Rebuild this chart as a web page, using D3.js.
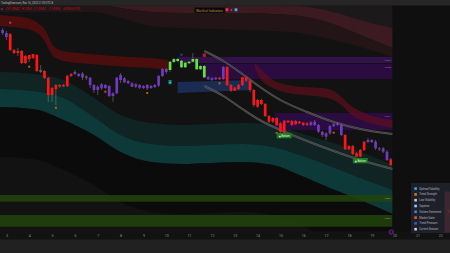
<!DOCTYPE html>
<html>
<head>
<meta charset="utf-8">
<script src="https://cdn.jsdelivr.net/npm/d3@7"></script>
<style>
  html, body { margin: 0; padding: 0; background: #121212; overflow: hidden; }
  svg { display: block; font-family: Roboto, 'DejaVu Sans', sans-serif; }
</style>
</head>
<body>
<script>
//4h candles (price units)
var opens = [270,267,266,250,249,249,244,245,246,245, 230,229,222,212,215,215,215,224.3,226,228,
  226,226.5,223.5,222.3,215,213.3,215.7,215,214,206.7, 206.7,225,221.7,219,216.7,215.7,215,214,215,214,
  215,214.5,224,228,230,238,239,232.7,232.7,236.7, 238.3,230.7,230.7,222.7,222.7,221.7,222.3,222.3,221,233,
  215,212.3,215,222.7,222.7,219.3,210,200,200,196, 184,182,182,176.7,179.3,179.3,179,179,178.3,177.3,
  176.7,177.7,178.3,175,168.3,166.7,166.7,174,176.7,175, 165,154,154,146.7,150,158.3,160,160,158.3,151.7,
  151.7,148.3,140.7];
var closes = [267,263,250,247,247,237,237,241,242,229, 228,222,205,205,211,213.5,213.5,214,224,226,
  224,222.5,222,215,210,210,211.7,212,204,204, 222.3,220,217.7,216.7,213.3,213.3,212.3,212,211.7,212,
  213,224,231,231,238.3,241,241,239.3,237.3,238.3, 241,241,234,234,220.7,220,220.7,220.7,233,215,
  209.3,209.3,211,215,219.3,210,195,193.3,196,184, 178.3,178.3,175,168.3,167.3,177.7,175,175.7,176.7,175,
  175,175,175,168.3,165,163.3,174,175.7,175,165, 150.7,150.7,146,143.3,143.3,150,158,158,151.7,150.7,
  148.3,140,135];
var highs = [272,269,267,251,252,250,245,245,246,246, 235,230,223,213,216,216,216,225,227,230,
  227,228,225,223,216,215,217,216,215,208, 223,227,223,220,218,217,216,215,216,215,
  216,225,232,232,239,242,242,240,238,239, 247,242,235,235,224,223,223,223,234,234,
  216,213,216,223,223,220,211,201,201,197, 185,183,183,178,180,180,180,180,179,178,
  178,179,180,176,169,168,175,177,178,176, 166,155,155,148,151,159,162,161,160,153,
  153,150,142];
var lows = [265,260,249,246,244,236,236,238,241,228, 227,221,198,198,195,212,213,213,223,225,
  223,220,220,212,207,205,210,211,203,198.3, 206,217,217,216,213,212,211,211,210,211,
  212,213,223,226,228,237,238,232,232,236, 238,230,230,222,220,219,220,220,220,214,
  208,209,210,214,218,208,193,192,195,183, 177,177,174,167,166,177,174,175,176,174,
  174,174,174,167,163,160,165,173,174,164, 150,150,145,143,143,149,157,157,150,149,
  147,139,134];
//indicator state per bar: r = bearish, g = bullish, p = neutral, x = flat
var states = ('pprrrrrrrr' + 'xrrrrrrrr' + 'ppp' + 'x' + 'ppppppppppppppppppppp' + 'gggggggggg' +
  'ppp' + 'r' + 'p' + 'rrrrrrrrrrrrrrrrrrrrrr' + 'ppppppppp' + 'rrrrrr' + 'ppp' + 'x' + 'pp' + 'r').split('');

//volatility envelope (sampled at bar index)
var bandIdx = [-1, 8, 16, 24, 31, 39, 47, 55, 63, 71, 78, 86, 94, 102.5];
var cloudTop = [305,305,305,303,300,297,296,295,295,295,294,289,280,272];
var cloudMid = [297,297,297,296,292,288,287,287,287,286,284,277,265,252];
var cloudBase = [288,288,288,288,282,274,272,271,270,269,267,261,253,243];
var tealInner = [228,226,220,202,185,177,175,176,177,175,167,158,148,135];
var tealMid = [211,209,202,183,165,156,154,155,156,153,145,134,122,110];
var tealOuter = [193,191,180,165,148,138,136,137,138,135,125,112,100,86];

//trailing ribbons
var ribbonLIdx = [-1, 2, 5, 8, 10, 11, 12, 13, 14, 16, 20, 26, 33, 39, 43.5];
var ribbonLTop = [285,284,283,280,275,271,264,256,252,249,247,245,243,242,240];
var ribbonLBot = [274,273,272,269,264,259,252,245,242,239,237,235,233,232,230];
var ribbonRIdx = [66.3, 68, 71, 75, 79, 84, 87, 89, 92, 95, 102.5];
var ribbonRTop = [237,230,220,215,213,212,209,203,193,187,180];
var ribbonRBot = [233,220,212,207,205,203,200,195,184,179,172];

//supply zones, demand zone, session stripes
var zoneStart = [46, 52.5, 71.5];
var zoneTop = [243, 236, 187];
var zoneBottom = [237, 221, 170];
var zoneLabels = ['1.0962', '1.0958', '1.0931'];
var blueIdx = [46, 65.5];
var blueTop = [218, 220];
var blueBottom = [207, 210];
var stripeTop = [105, 85];
var stripeBottom = [98.3, 73.3];
var stripeLabels = ['1.0884', '1.0867'];

//regression channel
var channelIdx = [53, 58, 63, 68, 73, 80, 87, 94, 102.5];
var channelUpper = [249,239,226,212,200,188,178,171,166];
var channelLower = [214,204,191,179,170,159,149,140,131];

//signals
var dotIdx = [7, 14, 27, 38, 57, 72, 87];
var dotPrice = [233.3, 192.3, 208.3, 207, 216.7, 167, 167.3];
var bottomIdx = [74, 94];
var bottomPrice = [167, 142];

//x axis (day starts)
var dayStart = [1,7,13,19,25,31,37,43,49,55,61,67,73,79,85,91,97,103,109,115];
var dayLabels = ['3','4','5','6','7','8','9','10','11','12','13','14','15','16','17','18','19','20','21','22'];

var legendItems = ['Optimal Volatility','Trend Strength','Low Volatility','Squeeze',
  'Volume Sentiment','Market State','Trend Pressure','Current Session'];
var legendColours = ['#3aa4e4','#e0701e','#c8c8d8','#a8c4ff','#3a84e4','#e0601a','#3064c8','#d0d0d0'];

var W = 450, H = 253;
var plotRight = 392.5, plotTop = 5.5, plotBottom = 231.5;

var svg = d3.select('body').append('svg').attr('width', W).attr('height', H);

var x = d3.scaleLinear().domain([0, 102]).range([2.6, 390.8]);
var y = d3.scaleLinear().domain([300, 47]).range([0, 253]);

//backgrounds
svg.append('rect').attr('width', W).attr('height', H).attr('fill', '#121212');
svg.append('rect').attr('x', plotRight).attr('y', plotTop).attr('width', W - plotRight)
  .attr('height', plotBottom - plotTop).attr('fill', '#0f0f0f');

svg.append('clipPath').attr('id', 'clip').append('rect')
  .attr('x', 0).attr('y', plotTop).attr('width', plotRight).attr('height', plotBottom - plotTop);
var g = svg.append('g').attr('clip-path', 'url(#clip)');

function band(idx, hi, lo) {
  return d3.area().curve(d3.curveMonotoneX)
    .x(function (d, i) { return x(idx[i]); })
    .y0(function (d, i) { return y(lo[i]); })
    .y1(function (d, i) { return y(hi[i]); })(idx);
}
function line(idx, vals) {
  return d3.line().curve(d3.curveMonotoneX)
    .x(function (d, i) { return x(idx[i]); })
    .y(function (d, i) { return y(vals[i]); })(idx);
}

//envelope
var capTop = bandIdx.map(function () { return 330; });
g.append('path').attr('d', band(bandIdx, capTop, cloudTop)).attr('fill', '#1b1919');
g.append('path').attr('d', band(bandIdx, cloudTop, cloudMid)).attr('fill', '#3b1a21');
g.append('path').attr('d', band(bandIdx, cloudMid, cloudBase)).attr('fill', '#231517');
g.append('path').attr('d', band(bandIdx, tealInner, tealMid)).attr('fill', '#112424');
g.append('path').attr('d', band(bandIdx, tealMid, tealOuter)).attr('fill', '#0d3a39');
var shadow = tealOuter.map(function (v) { return v - 50; });
g.append('path').attr('d', band(bandIdx, tealOuter, shadow)).attr('fill', '#0a0a0a').attr('opacity', 0.75);

//left ribbon
g.append('path').attr('d', band(ribbonLIdx, ribbonLTop, ribbonLBot)).attr('fill', '#4a0e0f');

//zones
zoneStart.forEach(function (s, i) {
  g.append('rect').attr('x', x(s)).attr('y', y(zoneTop[i]))
    .attr('width', plotRight - x(s)).attr('height', y(zoneBottom[i]) - y(zoneTop[i]))
    .attr('fill', i === 0 ? '#33124c' : '#2a0c40');
});
g.append('path').attr('d', d3.area()
    .x(function (d) { return x(d); })
    .y0(function (d, i) { return y(blueBottom[i]); })
    .y1(function (d, i) { return y(blueTop[i]); })(blueIdx))
  .attr('fill', '#1b2c52');

//right ribbon over the zones
g.append('path').attr('d', band(ribbonRIdx, ribbonRTop, ribbonRBot))
  .attr('fill', '#6a0f1c').attr('opacity', 0.6);

//session stripes
stripeTop.forEach(function (t, i) {
  g.append('rect').attr('x', 0).attr('y', y(t)).attr('width', plotRight)
    .attr('height', y(stripeBottom[i]) - y(t)).attr('fill', '#22440c').attr('opacity', 0.85);
});

//channel
[channelUpper, channelLower].forEach(function (vals) {
  g.append('path').attr('d', line(channelIdx, vals)).attr('fill', 'none')
    .attr('stroke', '#5c5c5c').attr('stroke-width', 2);
  g.append('path').attr('d', line(channelIdx, vals)).attr('fill', 'none')
    .attr('stroke', '#2a2a2a').attr('stroke-width', 0.6);
});

//candles
var colour = { r: '#ff1515', p: '#7338c2', g: '#5ee63a', x: '#5a5a5a' };
var bw = 2.7;
var bars = d3.range(opens.length);
g.selectAll('.wick').data(bars).enter().append('line')
  .attr('x1', function (i) { return x(i); }).attr('x2', function (i) { return x(i); })
  .attr('y1', function (i) { return y(highs[i]); }).attr('y2', function (i) { return y(lows[i]); })
  .attr('stroke', '#777').attr('stroke-width', 0.6);
g.selectAll('.body').data(bars).enter().append('rect')
  .attr('x', function (i) { return x(i) - bw / 2; })
  .attr('y', function (i) { return y(Math.max(opens[i], closes[i])); })
  .attr('width', bw)
  .attr('height', function (i) { return Math.max(0.9, Math.abs(y(opens[i]) - y(closes[i]))); })
  .attr('fill', function (i) { return colour[states[i]]; });

//signal dots
g.selectAll('.dot').data(dotIdx).enter().append('rect')
  .attr('x', function (d) { return x(d) - 1; })
  .attr('y', function (d, i) { return y(dotPrice[i]) - 1; })
  .attr('width', 2).attr('height', 2).attr('fill', '#c4560f');
g.append('rect').attr('x', x(2) - 1).attr('y', y(277.3) - 1).attr('width', 2).attr('height', 2).attr('fill', '#c83a5c');
g.append('rect').attr('x', x(47) - 1).attr('y', y(245.3) - 1).attr('width', 2).attr('height', 2).attr('fill', '#2440c4');
g.append('rect').attr('x', x(53) - 1.6).attr('y', y(246.5)).attr('width', 3.2).attr('height', 3.4).attr('fill', '#b81a32');
g.append('rect').attr('x', x(44) - 1.6).attr('y', y(220)).attr('width', 3.2).attr('height', 4.2).attr('fill', '#168080');
g.append('text').attr('x', x(44)).attr('y', y(216.8)).attr('text-anchor', 'middle')
  .attr('font-size', 2.4).attr('fill', '#d8f0f0').text('B');

bottomIdx.forEach(function (b, i) {
  var bx = x(b);
  g.append('rect').attr('x', bx - 7.5).attr('y', y(bottomPrice[i])).attr('width', 15).attr('height', 5.3)
    .attr('fill', '#1c7a20');
  g.append('text').attr('x', bx).attr('y', y(bottomPrice[i]) + 3.7).attr('text-anchor', 'middle')
    .attr('font-size', 2.6).attr('fill', '#e8ffe8').text('▲ Bottom');
});

//zone price tags
zoneStart.forEach(function (s, i) {
  svg.append('text').attr('x', 391).attr('y', y(zoneTop[i]) + 3.6).attr('text-anchor', 'end')
    .attr('font-size', 2.4).attr('fill', '#8c7a9c').text(zoneLabels[i]);
});
stripeTop.forEach(function (t, i) {
  svg.append('text').attr('x', 391).attr('y', y(t) + 3.6).attr('text-anchor', 'end')
    .attr('font-size', 2.4).attr('fill', '#8a9a7a').text(stripeLabels[i]);
});

//x axis
svg.append('rect').attr('x', 0).attr('y', 239.5).attr('width', W).attr('height', H - 239.5).attr('fill', '#212121');
var xAxis = svg.append('g').attr('transform', 'translate(0,' + 234 + ')')
  .call(d3.axisBottom(x).tickValues(dayStart)
    .tickFormat(function (d, i) { return dayLabels[i]; }).tickSize(0).tickPadding(0));
xAxis.select('.domain').remove();
xAxis.selectAll('text').attr('font-size', 3.6).attr('fill', '#8c8c8c').attr('font-family', 'Roboto, sans-serif');

svg.append('circle').attr('cx', 391.3).attr('cy', 232).attr('r', 2.1)
  .attr('fill', '#2a0a30').attr('stroke', '#a02ab0').attr('stroke-width', 0.7);

//header
svg.append('rect').attr('width', W).attr('height', plotTop).attr('fill', '#262626');
svg.append('text').attr('x', 1).attr('y', 3.8).attr('font-size', 3.2).attr('fill', '#bdbdbd')
  .attr('textLength', 52).attr('lengthAdjust', 'spacingAndGlyphs')
  .text('TradingView.com, Nov 16, 2023 21:03 UTC-8');
var ohlc = ['O1.0947', 'H1.0963', 'L1.0941', 'C1.0955', '+0.0008 (+0.07%)'];
var ohlcX = [6, 22, 34, 49, 63], ohlcW = [14, 10, 12, 11, 17];
svg.append('text').attr('x', 1).attr('y', 9.6).attr('font-size', 3).attr('fill', '#777').text('a');
ohlc.forEach(function (t, i) {
  svg.append('text').attr('x', ohlcX[i]).attr('y', 9.6).attr('font-size', 3).attr('fill', '#c4101c')
    .attr('textLength', ohlcW[i]).attr('lengthAdjust', 'spacingAndGlyphs').text(t);
});
svg.append('rect').attr('x', 194.5).attr('y', 7.6).attr('width', 30.5).attr('height', 5.2).attr('fill', '#080808');
svg.append('text').attr('x', 196).attr('y', 11.5).attr('font-size', 3.2).attr('fill', '#b49a3a')
  .attr('textLength', 27).attr('lengthAdjust', 'spacingAndGlyphs').text('World of Indicators');
svg.append('rect').attr('x', 225.6).attr('y', 8.3).attr('width', 2.7).attr('height', 2.9).attr('fill', '#e8306a');
svg.append('rect').attr('x', 230.6).attr('y', 8.9).attr('width', 1.6).attr('height', 2).attr('fill', '#c03070');
svg.append('rect').attr('x', 234.6).attr('y', 8.3).attr('width', 2.8).attr('height', 2.9).attr('fill', '#28b4e8');

//legend table
svg.append('rect').attr('x', 411.5).attr('y', 183.5).attr('width', 39).attr('height', 49)
  .attr('fill', '#1d2028').attr('stroke', '#2a2d36').attr('stroke-width', 0.5);
svg.append('rect').attr('x', 444.5).attr('y', 191.5).attr('width', 6).attr('height', 41).attr('fill', '#3b2730');
svg.append('text').attr('x', 447.5).attr('y', 213).attr('font-size', 3).attr('fill', '#e0303a').text('1');
legendItems.forEach(function (t, i) {
  var ly = 188.6 + i * 5.8;
  svg.append('rect').attr('x', 414.3).attr('y', ly - 1.3).attr('width', 2.6).attr('height', 2.6)
    .attr('fill', legendColours[i]);
  svg.append('text').attr('x', 419.3).attr('y', ly + 1).attr('font-size', 2.7).attr('fill', '#b8b8c0').text(t);
});
</script>
</body>
</html>
